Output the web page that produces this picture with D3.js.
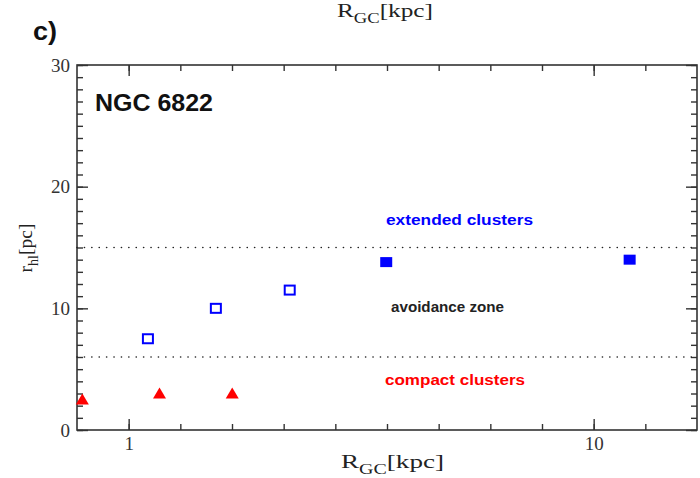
<!DOCTYPE html>
<html>
<head>
<meta charset="utf-8">
<script src="https://cdn.jsdelivr.net/npm/d3@7"></script>
<style>
  body { margin: 0; background: #fff; }
  svg { display: block; }
  .serif { font-family: "Liberation Serif", "Times New Roman", serif; }
  .sans { font-family: "Liberation Sans", Arial, sans-serif; font-weight: bold; }
</style>
</head>
<body>
<script>
// cluster data: R_GC [kpc] vs r_hl [pc]
const openRgc = [1.10, 1.54, 2.22];
const openRhl = [7.5, 10.0, 11.5];
const filledRgc = [3.58, 11.95];
const filledRhl = [13.8, 14.0];
const compactRgc = [0.795, 1.165, 1.67];
const compactRhl = [2.5, 3.0, 3.0];
const limits = [15, 6];
const xMajor = [1, 10];
const yMajor = [0, 10, 20, 30];

const W = 700, H = 478;
const mLeft = 77, mRight = 697, mTop = 65, mBottom = 430;

const svg = d3.select("body").append("svg")
    .attr("width", W)
    .attr("height", H);

const x = d3.scaleLog()
    .domain([10 ** (-1 / 9), 10 ** (11 / 9)])
    .range([mLeft, mRight]);
const y = d3.scaleLinear()
    .domain([0, 30])
    .range([mBottom, mTop]);

// minor ticks in grace are evenly spaced in log space (9 steps per decade)
const xMinor = d3.range(-1, 12).map(k => 10 ** (k / 9)).filter(v => v > x.domain()[0] * 1.001 && v < x.domain()[1] * 0.999);
const yMinor = d3.range(0, 31);

const axisColor = "#333";

function styleAxis(g) {
    g.select(".domain").remove();
    g.selectAll(".tick line").attr("stroke", axisColor).attr("stroke-width", 1.4);
    g.selectAll(".tick text")
        .attr("class", "serif")
        .attr("font-size", 19)
        .attr("fill", "#333");
}

// bottom
svg.append("g").attr("transform", `translate(0,${mBottom})`)
    .call(d3.axisBottom(x).tickValues(xMinor).tickSize(-6).tickFormat(""))
    .call(styleAxis);
svg.append("g").attr("transform", `translate(0,${mBottom})`)
    .call(d3.axisBottom(x).tickValues(xMajor).tickSize(-11).tickPadding(7).tickFormat(d3.format("d")))
    .call(styleAxis);
// top
svg.append("g").attr("transform", `translate(0,${mTop})`)
    .call(d3.axisTop(x).tickValues(xMinor).tickSize(-6).tickFormat(""))
    .call(styleAxis);
svg.append("g").attr("transform", `translate(0,${mTop})`)
    .call(d3.axisTop(x).tickValues(xMajor).tickSize(-11).tickFormat(""))
    .call(styleAxis);
// left
svg.append("g").attr("transform", `translate(${mLeft},0)`)
    .call(d3.axisLeft(y).tickValues(yMinor).tickSize(-6).tickFormat(""))
    .call(styleAxis);
svg.append("g").attr("transform", `translate(${mLeft},0)`)
    .call(d3.axisLeft(y).tickValues(yMajor).tickSize(-11).tickPadding(7).tickFormat(d3.format("d")))
    .call(styleAxis);
// right
svg.append("g").attr("transform", `translate(${mRight},0)`)
    .call(d3.axisRight(y).tickValues(yMinor).tickSize(-6).tickFormat(""))
    .call(styleAxis);
svg.append("g").attr("transform", `translate(${mRight},0)`)
    .call(d3.axisRight(y).tickValues(yMajor).tickSize(-11).tickFormat(""))
    .call(styleAxis);

// frame
svg.append("rect")
    .attr("x", mLeft).attr("y", mTop)
    .attr("width", mRight - mLeft).attr("height", mBottom - mTop)
    .attr("fill", "none")
    .attr("stroke", axisColor)
    .attr("stroke-width", 1.6);

// dotted limits
svg.append("g").selectAll("line")
    .data(limits)
    .join("line")
        .attr("x1", mLeft).attr("x2", mRight)
        .attr("y1", d => y(d)).attr("y2", d => y(d))
        .attr("stroke", "#222")
        .attr("stroke-width", 1.6)
        .attr("stroke-linecap", "round")
        .attr("stroke-dasharray", "0.1,7.3");

// markers
svg.append("g").selectAll("rect")
    .data(d3.zip(openRgc, openRhl))
    .join("rect")
        .attr("x", d => x(d[0]) - 5)
        .attr("y", d => y(d[1]) - 4.5)
        .attr("width", 10).attr("height", 9)
        .attr("fill", "none")
        .attr("stroke", "#0000ff")
        .attr("stroke-width", 2);

svg.append("g").selectAll("rect")
    .data(d3.zip(filledRgc, filledRhl))
    .join("rect")
        .attr("x", d => x(d[0]) - 6)
        .attr("y", d => y(d[1]) - 5)
        .attr("width", 12).attr("height", 10)
        .attr("fill", "#0000ff");

svg.append("g").selectAll("path")
    .data(d3.zip(compactRgc, compactRhl))
    .join("path")
        .attr("transform", d => `translate(${x(d[0])},${y(d[1])})`)
        .attr("d", "M0,-6L6.5,5L-6.5,5Z")
        .attr("fill", "#ff0000");

// annotations (the source figure is a bit stretched sideways, so widths are forced)
function label(txt, xPos, yPos, size, width, color) {
    svg.append("text").attr("class", "sans")
        .attr("x", xPos).attr("y", yPos)
        .attr("font-size", size)
        .attr("fill", color)
        .attr("textLength", width)
        .attr("lengthAdjust", "spacingAndGlyphs")
        .text(txt);
}
label("NGC 6822", 95, 111, 24, 118, "#111");
label("c)", 33, 40, 26, 24, "#111");
label("extended clusters", 386, 225, 15.5, 147, "#0000ff");
label("avoidance zone", 391, 311.5, 14, 113, "#222");
label("compact clusters", 385, 385, 14.5, 140, "#ff0000");

// axis titles
function rgcLabel(xPos, yPos, width) {
    const t = svg.append("text").attr("class", "serif")
        .attr("x", xPos).attr("y", yPos)
        .attr("font-size", 19)
        .attr("fill", "#222")
        .attr("textLength", width)
        .attr("lengthAdjust", "spacingAndGlyphs");
    t.append("tspan").text("R");
    t.append("tspan").attr("font-size", 14).attr("dy", 6).text("GC");
    t.append("tspan").attr("dy", -6).text("[kpc]");
}
rgcLabel(341, 467.5, 103);
rgcLabel(337, 17, 96);

const yt = svg.append("text").attr("class", "serif")
    .attr("transform", "translate(32,248) rotate(-90)")
    .attr("text-anchor", "middle")
    .attr("font-size", 19.5)
    .attr("fill", "#222");
yt.append("tspan").text("r");
yt.append("tspan").attr("font-size", 14).attr("dy", 6).text("hl");
yt.append("tspan").attr("dy", -6).text("[pc]");
</script>
</body>
</html>
